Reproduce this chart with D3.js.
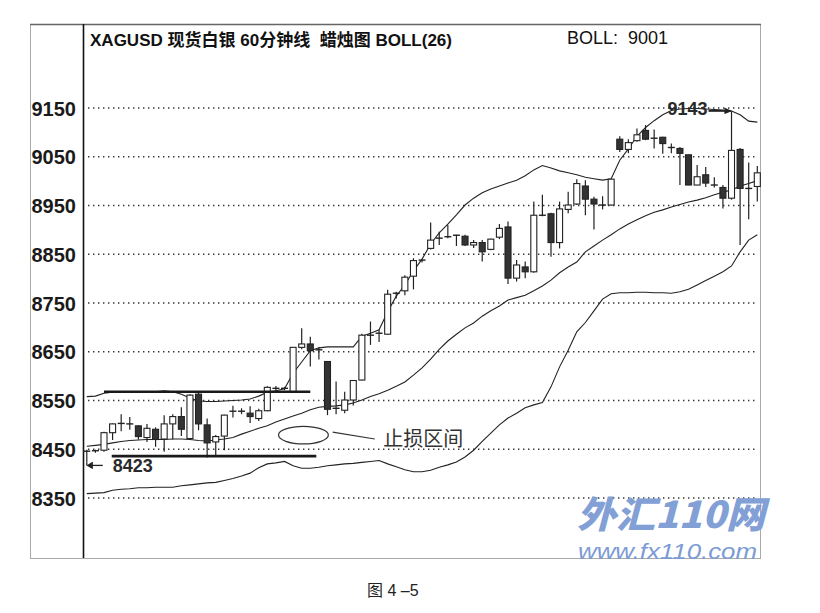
<!DOCTYPE html>
<html>
  <head>
    <meta charset="utf-8">
    <title>XAGUSD 60分钟线 BOLL</title>
    <script src="https://cdn.jsdelivr.net/npm/d3@7"></script>
    <style>
      body { margin: 0; background: #fff; }
      svg { display: block; }
      .num { font-family: "Liberation Sans", Arial, sans-serif; }
      .cjk { font-family: "Liberation Sans", "Noto Sans CJK SC", sans-serif; }
    </style>
  </head>
  <body>
    <svg id="chart" width="820" height="613"></svg>

    <script>
      // data
      const yTicks = [8350, 8450, 8550, 8650, 8750, 8850, 8950, 9050, 9150];

      const open  = [8446, 8446, 8448, 8484, 8502, 8502, 8498, 8474, 8491, 8471,
                     8502, 8517, 8472, 8563, 8500, 8465, 8477, 8528, 8528, 8524,
                     8513, 8529, 8574, 8575, 8568, 8659, 8666, 8654, 8630, 8534,
                     8530, 8551, 8592, 8684, 8688, 8686, 8770, 8775, 8805, 8838,
                     8862, 8883, 8886, 8889, 8887, 8869, 8874, 8860, 8885, 8906,
                     8801, 8824, 8814, 8930, 8933, 8874, 8942, 8953, 8990, 8963,
                     8951, 8951, 9086, 9065, 9083, 9104, 9088, 9090, 9069, 9067,
                     9054, 8992, 9013, 8992, 8987, 8965, 9065, 8985, 8989];
      const high  = [8449, 8449, 8486, 8503, 8522, 8516, 8499, 8502, 8495, 8520,
                     8522, 8536, 8563, 8566, 8513, 8479, 8521, 8539, 8534, 8538,
                     8533, 8579, 8580, 8578, 8659, 8698, 8681, 8660, 8631, 8589,
                     8568, 8592, 8687, 8712, 8695, 8777, 8773, 8807, 8842, 8840,
                     8915, 8896, 8910, 8890, 8890, 8879, 8879, 8882, 8912, 8917,
                     8838, 8835, 8958, 8972, 8935, 8958, 8978, 9004, 9002, 8968,
                     8969, 9004, 9092, 9086, 9108, 9115, 9106, 9091, 9077, 9070,
                     9054, 9033, 9029, 9008, 8992, 9143, 9068, 9038, 9031];
      const low   = [8423, 8443, 8445, 8469, 8487, 8490, 8470, 8465, 8455, 8445,
                     8470, 8477, 8470, 8489, 8433, 8435, 8448, 8515, 8522, 8504,
                     8508, 8528, 8570, 8571, 8568, 8655, 8620, 8634, 8520, 8522,
                     8524, 8540, 8591, 8664, 8670, 8685, 8759, 8766, 8778, 8833,
                     8860, 8869, 8883, 8867, 8867, 8863, 8835, 8858, 8881, 8789,
                     8794, 8801, 8812, 8928, 8845, 8862, 8934, 8951, 8930, 8901,
                     8942, 8950, 9060, 9057, 9081, 9084, 9067, 9056, 9057, 8992,
                     8992, 8992, 8988, 8987, 8944, 8962, 8869, 8922, 8958];
      const close = [8446, 8447, 8484, 8502, 8503, 8502, 8476, 8493, 8470, 8502,
                     8517, 8491, 8561, 8502, 8463, 8476, 8520, 8528, 8528, 8517,
                     8529, 8577, 8575, 8575, 8659, 8666, 8652, 8654, 8532, 8534,
                     8551, 8591, 8684, 8684, 8688, 8768, 8770, 8803, 8837, 8838,
                     8879, 8883, 8886, 8889, 8869, 8874, 8855, 8881, 8903, 8801,
                     8828, 8814, 8930, 8930, 8874, 8943, 8951, 8995, 8963, 8953,
                     8951, 9004, 9065, 9079, 9095, 9086, 9088, 9077, 9069, 9057,
                     8992, 9009, 8996, 8992, 8965, 9063, 8985, 8985, 9017];

      // Bollinger lines as traced
      const upper = [8558, 8559, 8565, 8567, 8567, 8567, 8567, 8567, 8568, 8570,
                     8568, 8563, 8555, 8549, 8548, 8548, 8549, 8550, 8551, 8553,
                     8559, 8567, 8570, 8574, 8606, 8629, 8652, 8658, 8660, 8660,
                     8660, 8660, 8682, 8688, 8695, 8732, 8764, 8787, 8816, 8840,
                     8871, 8894, 8912, 8931, 8951, 8965, 8976, 8984, 8990, 8996,
                     9002, 9011, 9023, 9032, 9027, 9021, 9017, 9013, 9008, 9005,
                     9002, 9005, 9043, 9066, 9092, 9110, 9124, 9136, 9145, 9148,
                     9149, 9149, 9148, 9147, 9146, 9144, 9136, 9123, 9121];
      const middle = [8456, 8458, 8460, 8463, 8466, 8468, 8469, 8470, 8470, 8470,
                      8471, 8471, 8470, 8468, 8467, 8469, 8471, 8474, 8481, 8487,
                      8493, 8498, 8506, 8512, 8518, 8524, 8531, 8536, 8538, 8539,
                      8541, 8545, 8551, 8558, 8564, 8571, 8579, 8588, 8602, 8617,
                      8635, 8655, 8672, 8686, 8699, 8709, 8723, 8734, 8744, 8756,
                      8761, 8766, 8775, 8785, 8797, 8812, 8824, 8834, 8855, 8867,
                      8879, 8890, 8902, 8912, 8921, 8929, 8936, 8941, 8947, 8952,
                      8957, 8961, 8966, 8972, 8977, 8982, 8990, 8995, 9001];
      const lower = [8359, 8360, 8361, 8366, 8368, 8369, 8371, 8371, 8372, 8372,
                     8372, 8375, 8377, 8379, 8381, 8382, 8386, 8390, 8395, 8401,
                     8412, 8420, 8422, 8425, 8416, 8411, 8411, 8413, 8416, 8418,
                     8420, 8421, 8423, 8425, 8427, 8420, 8414, 8408, 8404, 8404,
                     8407, 8413, 8418, 8424, 8434, 8448, 8466, 8483, 8500, 8514,
                     8524, 8535, 8541, 8546, 8578, 8619, 8653, 8691, 8710, 8734,
                     8758, 8769, 8771, 8771, 8772, 8772, 8771, 8771, 8770, 8773,
                     8778, 8787, 8796, 8805, 8814, 8826, 8855, 8879, 8890];

      // hand-drawn marks on the chart: [price, from candle, to candle]
      const levels = [[8568, 2, 26], [8436, 2.9, 26.7]];
      const zone = { idx: 25.2, price: 8479, rIdx: 2.9, rPrice: 18 };
      const zoneLeader = [[28.6, 8485], [33.5, 8471]];
      const zoneLabel = "止损区间";

      const title = "XAGUSD 现货白银 60分钟线  蜡烛图 BOLL(26)";
      const bollLabel = "BOLL:  9001";
      const caption = "图 4 –5";

      // scales
      const svg = d3.select("#chart");
      const x = d3.scaleLinear().domain([0, open.length - 1]).range([86.8, 757.3]);
      const y = d3.scaleLinear().domain([8350, 9150]).range([498, 108]);
      const ink = "#222";

      // frame
      svg.append("rect")
        .attr("x", 30.5).attr("y", 24.5)
        .attr("width", 730).attr("height", 534)
        .style("fill", "none").style("stroke", "#aaa");
      svg.append("line")
        .attr("x1", 30).attr("x2", 761).attr("y1", 24.5).attr("y2", 24.5)
        .style("stroke", "#666").style("stroke-width", 1.5);
      svg.append("line")
        .attr("x1", 83.5).attr("x2", 83.5).attr("y1", 24).attr("y2", 558)
        .style("stroke", "#111").style("stroke-width", 1.6);

      // grid
      svg.append("g")
        .selectAll("line")
        .data(yTicks)
        .join("line")
          .attr("x1", 88).attr("x2", 758)
          .attr("y1", d => y(d)).attr("y2", d => y(d))
          .style("stroke", "#333")
          .style("stroke-width", 1.4)
          .style("stroke-dasharray", "1.4,3.6");

      // y axis labels
      const yAxis = svg.append("g")
        .attr("transform", "translate(76,0)")
        .call(d3.axisLeft(y).tickValues(yTicks).tickSize(0).tickPadding(0).tickFormat(d3.format("d")));
      yAxis.select(".domain").remove();
      yAxis.selectAll("text")
        .attr("class", "num")
        .attr("dy", null)
        .attr("y", 7)
        .style("font-size", "20px")
        .style("font-weight", "bold")
        .style("fill", "#1a1a1a");

      // bands
      const band = d3.line().x((d, i) => x(i)).y(d => y(d));
      svg.append("g")
        .selectAll("path")
        .data([upper, middle, lower])
        .join("path")
          .attr("d", band)
          .style("fill", "none")
          .style("stroke", ink)
          .style("stroke-width", 1.1);

      // candles
      const candles = svg.append("g")
        .selectAll("g")
        .data(d3.range(open.length))
        .join("g");
      candles.append("line")
        .attr("x1", i => x(i)).attr("x2", i => x(i))
        .attr("y1", i => y(high[i])).attr("y2", i => y(low[i]))
        .style("stroke", ink).style("stroke-width", 1.2);
      candles.filter(i => Math.abs(close[i] - open[i]) >= 3)
        .append("rect")
          .attr("x", i => x(i) - 3)
          .attr("width", 6)
          .attr("y", i => y(Math.max(open[i], close[i])))
          .attr("height", i => Math.abs(y(open[i]) - y(close[i])))
          .style("fill", i => close[i] > open[i] ? "#fff" : "#333")
          .style("stroke", ink)
          .style("stroke-width", 1.1);
      candles.filter(i => Math.abs(close[i] - open[i]) < 3)
        .append("line")
          .attr("x1", i => x(i) - 3.5).attr("x2", i => x(i) + 3.5)
          .attr("y1", i => y(close[i])).attr("y2", i => y(close[i]))
          .style("stroke", ink).style("stroke-width", 1.4);

      // support / resistance strokes
      svg.append("g")
        .selectAll("line")
        .data(levels)
        .join("line")
          .attr("x1", d => x(d[1])).attr("x2", d => x(d[2]))
          .attr("y1", d => y(d[0])).attr("y2", d => y(d[0]))
          .style("stroke", "#1a1a1a")
          .style("stroke-width", 2.6);

      // stop-loss zone
      svg.append("ellipse")
        .attr("cx", x(zone.idx)).attr("cy", y(zone.price))
        .attr("rx", x(zone.rIdx) - x(0))
        .attr("ry", y(8350) - y(8350 + zone.rPrice))
        .style("fill", "none").style("stroke", "#333").style("stroke-width", 1.2);
      svg.append("line")
        .attr("x1", x(zoneLeader[0][0])).attr("y1", y(zoneLeader[0][1]))
        .attr("x2", x(zoneLeader[1][0])).attr("y2", y(zoneLeader[1][1]))
        .style("stroke", "#333").style("stroke-width", 1.2);
      svg.append("text")
        .attr("class", "cjk")
        .attr("x", x(34.5)).attr("y", y(8473) + 8)
        .style("font-size", "20px")
        .style("fill", "#333")
        .text(zoneLabel);

      // high / low markers
      const hi = d3.maxIndex(high), lo = d3.minIndex(low);
      const markers = svg.append("g").style("stroke", ink).style("stroke-width", 1.3);
      markers.append("line")
        .attr("x1", x(hi) - 23).attr("x2", x(hi) - 1)
        .attr("y1", y(high[hi]) - 0.5).attr("y2", y(high[hi]) - 0.5)
        .style("stroke-width", 1.8);
      markers.append("path")
        .attr("d", `M${x(hi) - 7},${y(high[hi]) - 3} L${x(hi) - 1},${y(high[hi]) - 0.5} L${x(hi) - 7},${y(high[hi]) + 2}`)
        .style("fill", ink);
      markers.append("line")
        .attr("x1", x(lo)).attr("x2", x(lo))
        .attr("y1", y(low[lo])).attr("y2", y(low[lo]) + 3);
      markers.append("line")
        .attr("x1", x(lo) + 1).attr("x2", x(lo) + 16)
        .attr("y1", y(low[lo]) + 3).attr("y2", y(low[lo]) + 3);
      markers.append("path")
        .attr("d", `M${x(lo) + 6},${y(low[lo])} L${x(lo) + 1},${y(low[lo]) + 3} L${x(lo) + 6},${y(low[lo]) + 6}`)
        .style("fill", ink);
      svg.append("text")
        .attr("class", "num")
        .attr("x", x(hi) - 24).attr("y", y(high[hi]) + 4)
        .attr("text-anchor", "end")
        .style("font-size", "18px").style("font-weight", "bold").style("fill", "#2a2a2a")
        .text(high[hi]);
      svg.append("text")
        .attr("class", "num")
        .attr("x", x(lo) + 26).attr("y", y(low[lo]) + 10)
        .style("font-size", "18px").style("font-weight", "bold").style("fill", "#2a2a2a")
        .text(low[lo]);

      // headings
      svg.append("text")
        .attr("class", "cjk")
        .attr("x", 90).attr("y", 46)
        .attr("textLength", 362).attr("lengthAdjust", "spacingAndGlyphs")
        .style("white-space", "pre")
        .style("font-size", "17px").style("font-weight", "bold").style("fill", "#111")
        .text(title);
      svg.append("text")
        .attr("class", "num")
        .attr("x", 567).attr("y", 44)
        .style("white-space", "pre")
        .style("font-size", "18px").style("fill", "#111")
        .text(bollLabel);
      svg.append("text")
        .attr("class", "cjk")
        .attr("x", 367).attr("y", 596)
        .style("font-size", "16px").style("fill", "#222")
        .text(caption);

      // watermark
      svg.append("text")
        .attr("x", 577).attr("y", 528)
        .attr("textLength", 188).attr("lengthAdjust", "spacingAndGlyphs")
        .style("font-family", "'Noto Sans CJK SC', sans-serif")
        .style("font-size", "37px").style("font-weight", 900).style("font-style", "italic")
        .style("fill", "#829fd6")
        .text("外汇110网");
      svg.append("text")
        .attr("x", 578).attr("y", 559)
        .attr("textLength", 179).attr("lengthAdjust", "spacingAndGlyphs")
        .style("font-family", "'Liberation Sans', Arial, sans-serif")
        .style("font-size", "22px").style("font-style", "italic")
        .style("fill", "#7c9bd4")
        .text("www.fx110.com");
    </script>
  </body>
</html>
